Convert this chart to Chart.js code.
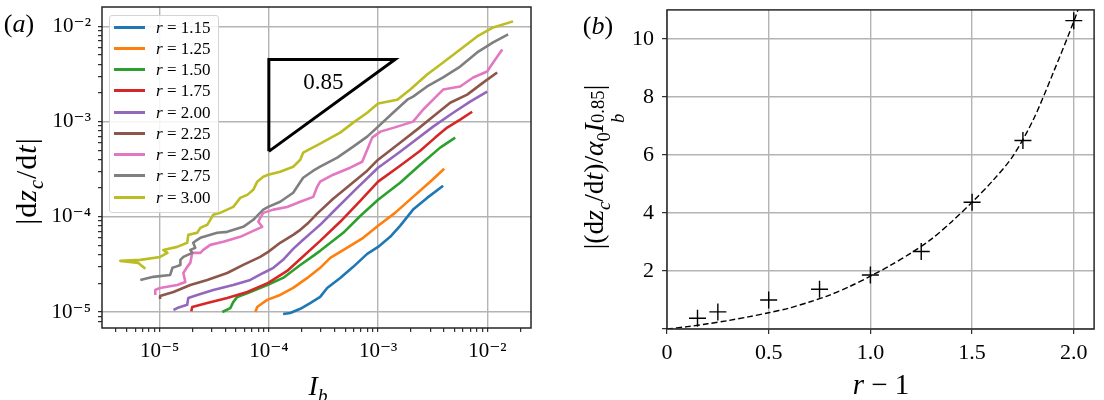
<!DOCTYPE html>
<html>
<head>
<meta charset="utf-8">
<script src="https://cdn.jsdelivr.net/npm/chart.js@4.4.0/dist/chart.umd.min.js"></script>
<style>
  body { margin: 0; background: #fff; }
  #wrap { position: relative; width: 1104px; height: 400px; overflow: hidden;
          font-family: "Liberation Serif", "DejaVu Serif", serif; color: #000; }
  canvas { position: absolute; top: 0; }
  .t { position: absolute; white-space: nowrap; line-height: 1; }
  .ctr { transform: translate(-50%, -50%); }
  .rot { transform: translate(-50%, -50%) rotate(-90deg); }
  sub, sup { font-size: 0.68em; line-height: 0; }
  .ss { display: inline-flex; flex-direction: column; font-size: 0.68em; line-height: 1.05; vertical-align: -0.05em; }
  #legendA { position: absolute; left: 109px; top: 15px; width: 108px; height: 196px;
             border: 1px solid #d4d4d4; border-radius: 3px; background: rgba(255,255,255,0.85); }
  .row { position: absolute; left: 0; height: 20px; width: 108px; }
  .sw { position: absolute; left: 4px; top: 9px; width: 31px; height: 3px; }
  .lt { position: absolute; left: 46px; top: 1px; font-size: 17px; line-height: 20px; }
</style>
</head>
<body>
<div id="wrap">
  <canvas id="chartA" width="552" height="400" style="left:0"></canvas>
  <canvas id="chartB" width="552" height="400" style="left:552px"></canvas>
  <div id="legendA"></div>

  <div class="t ctr" style="left:19px;top:24px;font-size:26px">(<i>a</i>)</div>
  <div class="t ctr" style="left:598px;top:26px;font-size:26px">(<i>b</i>)</div>
  <div class="t rot" style="left:26px;top:181px;font-size:30px;letter-spacing:1px">|d<i>z</i><sub><i>c</i></sub>/d<i>t</i>|</div>
  <div class="t ctr" style="left:318px;top:386px;font-size:28px"><i>I</i><sub><i>b</i></sub></div>
  <div class="t rot" style="left:604px;top:167px;font-size:27.5px">|(d<i>z</i><sub><i>c</i></sub>/d<i>t</i>)/<i>α</i><sub>0</sub><i>I</i><span class="ss"><span>0.85</span><span><i>b</i></span></span>|</div>
  <div class="t ctr" style="left:881px;top:384px;font-size:29px"><i>r</i> − 1</div>
</div>
<script>
// ---- panel (a): |dz_c/dt| against I_b, one curve per r ----
const rLabels = ['1.15', '1.25', '1.50', '1.75', '2.00', '2.25', '2.50', '2.75', '3.00'];
const lineColors = ['#1f77b4', '#ff7f0e', '#2ca02c', '#d62728', '#9467bd', '#8c564b', '#e377c2', '#7f7f7f', '#bcbd22'];

// [I_b, |dz_c/dt|] pairs
const r115 = [[1.35e-4,9.53e-6],[1.57e-4,9.76e-6],[1.94e-4,1.08e-5],[2.39e-4,1.24e-5],[2.95e-4,1.44e-5],[3.42e-4,1.79e-5],[4.50e-4,2.28e-5],[5.92e-4,2.98e-5],[7.95e-4,4.08e-5],[1.00e-3,4.83e-5],[1.29e-3,6.16e-5],[1.59e-3,8.04e-5],[2.09e-3,1.19e-4],[2.81e-3,1.58e-4],[3.94e-3,2.12e-4]];
const r125 = [[7.51e-5,1.00e-5],[7.83e-5,1.13e-5],[8.34e-5,1.19e-5],[9.67e-5,1.34e-5],[1.27e-4,1.51e-5],[1.67e-4,1.79e-5],[2.25e-4,2.28e-5],[2.95e-4,2.91e-5],[3.65e-4,3.70e-5],[5.00e-4,4.60e-5],[7.31e-4,6.01e-5],[1.00e-3,8.04e-5],[1.43e-3,1.10e-4],[2.09e-3,1.62e-4],[3.00e-3,2.34e-4],[4.03e-3,3.20e-4]];
const r150 = [[3.75e-5,1.00e-5],[4.44e-5,1.10e-5],[4.72e-5,1.27e-5],[5.14e-5,1.44e-5],[6.76e-5,1.62e-5],[9.67e-5,1.92e-5],[1.35e-4,2.28e-5],[1.94e-4,3.12e-5],[2.55e-4,3.89e-5],[2.95e-4,4.39e-5],[4.80e-4,6.79e-5],[6.86e-4,1.02e-4],[1.00e-3,1.51e-4],[1.59e-3,2.28e-4],[2.43e-3,3.53e-4],[3.70e-3,5.33e-4],[5.08e-3,6.79e-4]];
const r175 = [[1.95e-5,1.02e-5],[1.99e-5,1.13e-5],[2.73e-5,1.24e-5],[4.16e-5,1.40e-5],[6.35e-5,1.62e-5],[9.87e-5,2.02e-5],[1.47e-4,2.70e-5],[1.94e-4,3.61e-5],[2.95e-4,5.59e-5],[4.50e-4,8.86e-5],[6.86e-4,1.47e-4],[1.00e-3,2.34e-4],[1.59e-3,3.44e-4],[2.43e-3,4.95e-4],[3.33e-3,6.79e-4],[4.29e-3,8.65e-4],[5.64e-3,1.05e-3],[7.26e-3,1.27e-3]];
const r200 = [[1.34e-5,1.05e-5],[1.45e-5,1.10e-5],[1.79e-5,1.19e-5],[1.83e-5,1.40e-5],[2.21e-5,1.51e-5],[3.10e-5,1.70e-5],[4.72e-5,1.92e-5],[6.76e-5,2.17e-5],[8.89e-5,2.57e-5],[1.10e-4,2.91e-5],[1.35e-4,3.53e-5],[1.67e-4,4.60e-5],[2.06e-4,5.73e-5],[2.55e-4,7.12e-5],[2.95e-4,8.24e-5],[3.88e-4,1.13e-4],[6.17e-4,1.92e-4],[1.00e-3,3.28e-4],[1.59e-3,4.83e-4],[3.19e-3,8.86e-4],[4.87e-3,1.24e-3],[6.96e-3,1.62e-3],[9.96e-3,2.07e-3]];
const r225 = [[1.01e-5,1.37e-5],[1.01e-5,1.47e-5],[1.34e-5,1.62e-5],[1.91e-5,1.92e-5],[2.73e-5,2.17e-5],[4.16e-5,2.57e-5],[5.83e-5,3.12e-5],[8.34e-5,3.79e-5],[9.87e-5,4.28e-5],[1.27e-4,5.33e-5],[1.67e-4,6.46e-5],[1.94e-4,7.30e-5],[2.25e-4,8.44e-5],[2.77e-4,1.08e-4],[3.88e-4,1.55e-4],[5.56e-4,2.17e-4],[7.95e-4,3.05e-4],[1.00e-3,3.98e-4],[1.59e-3,6.01e-4],[2.33e-3,8.44e-4],[3.19e-3,1.13e-3],[4.57e-3,1.58e-3],[6.54e-3,1.92e-3],[9.15e-3,2.57e-3],[1.23e-2,3.28e-3]];
const r250 = [[9.13e-6,1.51e-5],[9.13e-6,1.70e-5],[1.01e-5,1.79e-5],[1.45e-5,1.92e-5],[1.72e-5,2.07e-5],[1.65e-5,2.57e-5],[1.79e-5,2.98e-5],[1.91e-5,3.28e-5],[1.99e-5,4.18e-5],[2.36e-5,4.18e-5],[2.51e-5,4.49e-5],[2.91e-5,5.07e-5],[3.83e-5,5.46e-5],[5.47e-5,6.16e-5],[7.20e-5,7.12e-5],[8.70e-5,7.85e-5],[8.00e-5,8.86e-5],[8.34e-5,9.76e-5],[8.89e-5,1.10e-4],[1.10e-4,1.19e-4],[1.47e-4,1.27e-4],[1.94e-4,1.44e-4],[2.55e-4,1.62e-4],[2.77e-4,2.07e-4],[2.95e-4,2.34e-4],[3.88e-4,2.77e-4],[5.56e-4,3.28e-4],[7.15e-4,3.79e-4],[7.95e-4,5.07e-4],[8.83e-4,6.79e-4],[1.05e-3,7.85e-4],[1.50e-3,8.86e-4],[2.09e-3,1.00e-3],[2.59e-3,1.34e-3],[3.19e-3,1.70e-3],[3.94e-3,2.17e-3],[5.64e-3,2.34e-3],[7.42e-3,2.91e-3],[9.96e-3,3.36e-3],[1.13e-2,4.18e-3],[1.37e-2,5.73e-3]];
const r275 = [[6.66e-6,2.17e-5],[8.76e-6,2.34e-5],[1.25e-5,2.45e-5],[1.31e-5,2.91e-5],[1.39e-5,2.98e-5],[1.55e-5,3.12e-5],[1.55e-5,3.53e-5],[1.65e-5,3.79e-5],[1.99e-5,4.18e-5],[1.91e-5,4.49e-5],[2.12e-5,4.72e-5],[2.03e-5,5.33e-5],[2.21e-5,5.73e-5],[2.36e-5,6.01e-5],[3.37e-5,6.79e-5],[4.16e-5,6.95e-5],[5.83e-5,7.85e-5],[7.20e-5,9.30e-5],[8.89e-5,1.19e-4],[9.87e-5,1.27e-4],[1.27e-4,1.44e-4],[1.67e-4,1.79e-4],[2.06e-4,2.57e-4],[2.55e-4,3.05e-4],[2.95e-4,3.36e-4],[4.23e-4,4.18e-4],[5.92e-4,5.46e-4],[7.95e-4,6.95e-4],[1.00e-3,8.86e-4],[1.37e-3,1.24e-3],[1.85e-3,1.70e-3],[2.09e-3,1.83e-3],[2.81e-3,2.34e-3],[3.94e-3,2.91e-3],[5.64e-3,3.79e-3],[8.07e-3,5.33e-3],[1.13e-2,6.79e-3],[1.55e-2,8.24e-3]];
const r300 = [[7.40e-6,2.84e-5],[6.39e-6,3.28e-5],[4.37e-6,3.44e-5],[6.66e-6,3.53e-5],[1.01e-5,3.79e-5],[1.18e-5,4.18e-5],[1.08e-5,4.49e-5],[1.45e-5,4.83e-5],[1.79e-5,5.33e-5],[1.83e-5,6.46e-5],[2.21e-5,6.79e-5],[2.36e-5,7.66e-5],[2.73e-5,8.24e-5],[3.10e-5,1.05e-4],[3.59e-5,1.10e-4],[4.16e-5,1.19e-4],[4.72e-5,1.27e-4],[5.47e-5,1.58e-4],[6.35e-5,1.70e-4],[7.20e-5,1.92e-4],[7.83e-5,2.34e-4],[8.89e-5,2.64e-4],[9.87e-5,2.77e-4],[1.27e-4,2.98e-4],[1.67e-4,3.36e-4],[1.94e-4,3.98e-4],[2.06e-4,4.72e-4],[2.95e-4,5.87e-4],[4.50e-4,7.66e-4],[5.92e-4,9.76e-4],[7.95e-4,1.24e-3],[1.00e-3,1.55e-3],[1.50e-3,1.70e-3],[1.97e-3,2.17e-3],[2.81e-3,3.12e-3],[3.94e-3,4.18e-3],[5.64e-3,5.73e-3],[8.07e-3,7.85e-3],[1.13e-2,9.76e-3],[1.72e-2,1.13e-2]];
const seriesA = [r115, r125, r150, r175, r200, r225, r250, r275, r300];

// slope triangle and its label
const slopeTriangle = [[1e-4,4.87e-4],[1e-4,4.5e-3],[1.43e-3,4.5e-3],[1e-4,4.87e-4]];
const slopeText = { x: 3.15e-4, y: 2.57e-3, text: '0.85' };

const ibRange = [2.97e-6, 2.51e-2];
const rateRange = [6.79e-6, 1.6e-2];

// ---- panel (b): scaled rate against r - 1 ----
const rMinusOne = [0.15, 0.25, 0.5, 0.75, 1.0, 1.25, 1.5, 1.75, 2.0];
const scaledRate = [0.37, 0.59, 1.0, 1.37, 1.86, 2.67, 4.37, 6.5, 10.63];
const fitX = [0, 0.1, 0.2, 0.3, 0.4, 0.5, 0.6, 0.7, 0.8, 0.9, 1.0, 1.1, 1.2, 1.3, 1.4, 1.5, 1.6, 1.7, 1.8, 1.9, 2.0, 2.05];
const fitY = [0, 0.08, 0.18, 0.29, 0.42, 0.56, 0.72, 0.93, 1.17, 1.47, 1.82, 2.2, 2.62, 3.1, 3.7, 4.37, 5.1, 5.95, 7.2, 8.85, 10.6, 11.6];

Chart.defaults.font.family = '"Liberation Serif", "DejaVu Serif", serif';
Chart.defaults.color = '#000';
const gridGray = '#b4b4b4';
const supMap = { '-': '⁻', '0': '⁰', '1': '¹', '2': '²', '3': '³', '4': '⁴', '5': '⁵', '6': '⁶', '7': '⁷', '8': '⁸', '9': '⁹' };

function isDecade(v) {
  const e = Math.log10(v);
  return Math.abs(e - Math.round(e)) < 1e-6;
}
function decadeLabel(v) {
  if (!isDecade(v)) return '';
  return '10' + String(Math.round(Math.log10(v))).split('').map(c => supMap[c]).join('');
}
// drop the 1.5x ticks and the range ends chart.js adds on log axes
function keepWholeMantissa(scale) {
  scale.ticks = scale.ticks.filter(t => {
    const m = t.value / Math.pow(10, Math.floor(Math.log10(t.value) + 1e-9));
    return Math.abs(m - Math.round(m)) < 1e-6;
  });
}
// fixed axis box, no extra room reserved for end labels
function fixBox(w, h) {
  return s => {
    if (w) s.width = w;
    if (h) s.height = h;
    s.paddingTop = 0; s.paddingBottom = 0; s.paddingLeft = 0; s.paddingRight = 0;
  };
}

const framePlugin = {
  id: 'frame',
  afterDraw(chart) {
    const { ctx, chartArea: a } = chart;
    ctx.save();
    ctx.strokeStyle = '#262626';
    ctx.lineWidth = 1.5;
    ctx.strokeRect(a.left, a.top, a.right - a.left, a.bottom - a.top);
    ctx.restore();
  }
};

const slopeLabelPlugin = {
  id: 'slopeLabel',
  afterDatasetsDraw(chart) {
    const { ctx, scales } = chart;
    ctx.save();
    ctx.font = '23px "Liberation Serif", serif';
    ctx.fillStyle = '#000';
    ctx.textAlign = 'center';
    ctx.textBaseline = 'middle';
    ctx.fillText(slopeText.text, scales.x.getPixelForValue(slopeText.x), scales.y.getPixelForValue(slopeText.y));
    ctx.restore();
  }
};

function logAxis(range, fit) {
  return {
    type: 'logarithmic',
    min: range[0], max: range[1],
    afterBuildTicks: keepWholeMantissa,
    afterFit: fit,
    border: { display: false },
    grid: {
      color: c => (c.tick && isDecade(c.tick.value)) ? gridGray : 'rgba(0,0,0,0)',
      lineWidth: 1.4, tickColor: '#000', tickLength: 4, tickWidth: 1
    },
    ticks: { autoSkip: false, maxRotation: 0, minRotation: 0, padding: 7, color: '#000',
             font: { size: 21 }, callback: v => decadeLabel(v) }
  };
}

const datasetsA = seriesA.map((pts, i) => ({
  label: 'r = ' + rLabels[i],
  data: pts.map(p => ({ x: p[0], y: p[1] })),
  borderColor: lineColors[i],
  backgroundColor: lineColors[i],
  borderWidth: 2.6,
  borderJoinStyle: 'round',
  showLine: true,
  pointRadius: 0,
  order: seriesA.length - i
}));
datasetsA.push({
  label: '',
  data: slopeTriangle.map(p => ({ x: p[0], y: p[1] })),
  borderColor: '#000',
  borderWidth: 3,
  showLine: true,
  pointRadius: 0,
  order: -1
});

const chartA = new Chart(document.getElementById('chartA'), {
  type: 'scatter',
  data: { datasets: datasetsA },
  options: {
    responsive: false,
    animation: false,
    devicePixelRatio: 1,
    layout: { padding: { left: 0, top: 7, right: 21, bottom: 0 } },
    plugins: { legend: { display: false }, tooltip: { enabled: false } },
    scales: {
      x: logAxis(ibRange, fixBox(0, 72)),
      y: logAxis(rateRange, fixBox(102, 0))
    }
  },
  plugins: [framePlugin, slopeLabelPlugin]
});

// legend inside panel (a), built from the datasets
const legendBox = document.getElementById('legendA');
chartA.data.datasets.forEach((ds, i) => {
  if (!ds.label) return;
  const row = document.createElement('div');
  row.className = 'row';
  row.style.top = (0.5 + i * 21.25) + 'px';
  row.innerHTML = '<span class="sw" style="background:' + ds.borderColor + '"></span>' +
                  '<span class="lt"><i>r</i> = ' + rLabels[i] + '</span>';
  legendBox.appendChild(row);
});

const chartB = new Chart(document.getElementById('chartB'), {
  type: 'scatter',
  data: {
    datasets: [
      {
        data: rMinusOne.map((x, i) => ({ x: x, y: scaledRate[i] })),
        pointStyle: 'cross',
        pointRadius: 8.5,
        pointBorderWidth: 1.4,
        borderColor: '#000',
        backgroundColor: '#000',
        showLine: false,
        order: 0
      },
      {
        data: fitX.map((x, i) => ({ x: x, y: fitY[i] })),
        borderColor: '#000',
        borderWidth: 1.4,
        borderDash: [6, 3],
        showLine: true,
        tension: 0.3,
        pointRadius: 0,
        order: 1
      }
    ]
  },
  options: {
    responsive: false,
    animation: false,
    devicePixelRatio: 1,
    layout: { padding: { left: 0, top: 8, right: 8, bottom: 0 } },
    plugins: { legend: { display: false }, tooltip: { enabled: false } },
    scales: {
      x: {
        type: 'linear', min: 0, max: 2.1,
        afterFit: fixBox(0, 71),
        border: { display: false },
        grid: { color: gridGray, lineWidth: 1.4, tickColor: '#000', tickLength: 5, tickWidth: 1 },
        ticks: { stepSize: 0.5, includeBounds: false, autoSkip: false, maxRotation: 0, padding: 6,
                 font: { size: 22 }, callback: v => v === 0 ? '0' : v.toFixed(1) }
      },
      y: {
        type: 'linear', min: 0, max: 11,
        afterFit: fixBox(115, 0),
        border: { display: false },
        grid: { color: gridGray, lineWidth: 1.4, tickColor: '#000', tickLength: 5, tickWidth: 1 },
        ticks: { stepSize: 2, includeBounds: false, autoSkip: false, padding: 8,
                 font: { size: 22 }, callback: v => v === 0 ? '' : String(v) }
      }
    }
  },
  plugins: [framePlugin]
});
</script>
</body>
</html>
